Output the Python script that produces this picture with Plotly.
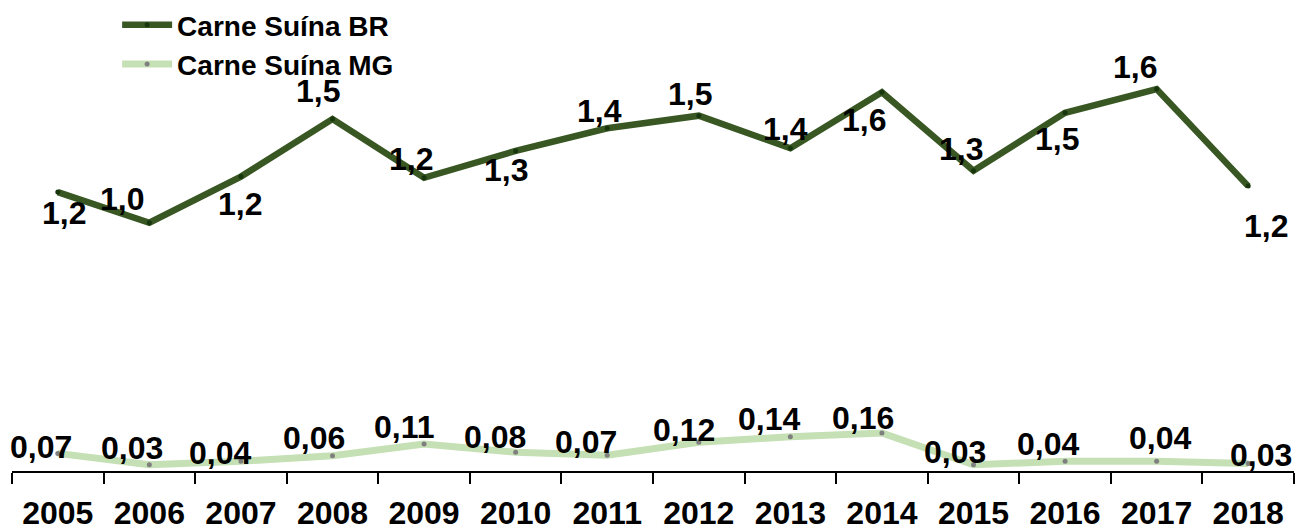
import plotly.graph_objects as go

# Consumo per capita de carne suína (kg/hab) – Brasil e Minas Gerais
anos = ["2005", "2006", "2007", "2008", "2009", "2010", "2011",
        "2012", "2013", "2014", "2015", "2016", "2017", "2018"]
carne_suina_br = [1.172, 1.043, 1.237, 1.479, 1.232, 1.345, 1.440,
                  1.493, 1.356, 1.591, 1.262, 1.505, 1.605, 1.197]
carne_suina_mg = [0.074, 0.026, 0.041, 0.064, 0.113, 0.079, 0.066,
                  0.121, 0.144, 0.160, 0.026, 0.041, 0.041, 0.032]

# Label offsets in pixels (dx right, dy down) relative to each point
br_offsets = [(6, 21), (-27, -24), (-1, 27), (-15, -28), (-13, -19), (-10, 19), (-8, -17),
              (-9, -22), (-5, -19), (-18, 28), (-13, -22), (-8, 26), (-22, -22), (18, 40)]
mg_offsets = [(-17, -6), (-17, -17), (-21, -8), (-19, -18), (-20, -17), (-21, -15), (-21, -13),
              (-15, -12), (-21, -18), (-19, -15), (-19, -13), (-17, -17), (3, -23), (13, -8)]

COR_BR = "#385723"
COR_MG = "#C5E0B4"
FONTE = "Liberation Sans"


def fmt(v, casas):
    return f"{v:.{casas}f}".replace(".", ",")


fig = go.Figure()
fig.add_trace(go.Scatter(
    x=anos, y=carne_suina_br, name="Carne Suína BR", mode="lines+markers",
    line=dict(color=COR_BR, width=6.5),
    marker=dict(color="#17360d", size=5),
))
fig.add_trace(go.Scatter(
    x=anos, y=carne_suina_mg, name="Carne Suína MG", mode="lines+markers",
    line=dict(color=COR_MG, width=7),
    marker=dict(color="#7f7f7f", size=5),
))

anotacoes = []
for serie, offs, casas in ((carne_suina_br, br_offsets, 1), (carne_suina_mg, mg_offsets, 2)):
    for i, (v, (dx, dy)) in enumerate(zip(serie, offs)):
        anotacoes.append(dict(
            x=i, y=v, xref="x", yref="y",
            text="<b>" + fmt(v, casas) + "</b>", showarrow=False,
            xanchor="center", yanchor="middle", xshift=dx, yshift=-dy,
            font=dict(family=FONTE, size=32, color="#000000"),
        ))

fig.update_layout(
    width=1297, height=530,
    margin=dict(l=12, r=3, t=0, b=59),
    paper_bgcolor="white", plot_bgcolor="white",
    font=dict(family=FONTE, color="#000000"),
    annotations=anotacoes,
    showlegend=True,
    legend=dict(
        x=0.082, y=1.0, xanchor="left", yanchor="top",
        font=dict(family=FONTE, size=28, color="#000000", weight="bold"),
        bgcolor="rgba(0,0,0,0)", tracegroupgap=0, itemwidth=50,
    ),
    xaxis=dict(
        type="category", showgrid=False, zeroline=False, automargin=False,
        showline=True, linecolor="#000000", linewidth=2,
        ticks="outside", tickson="boundaries", ticklen=11, tickwidth=2, tickcolor="#000000",
        tickfont=dict(family=FONTE, size=32, color="#000000", weight="bold"),
        ticklabelstandoff=13,
        range=[-0.5, 13.5],
    ),
    yaxis=dict(
        range=[0, 1.979], visible=False, showgrid=False, zeroline=False,
    ),
)

fig.write_html("out.html")
